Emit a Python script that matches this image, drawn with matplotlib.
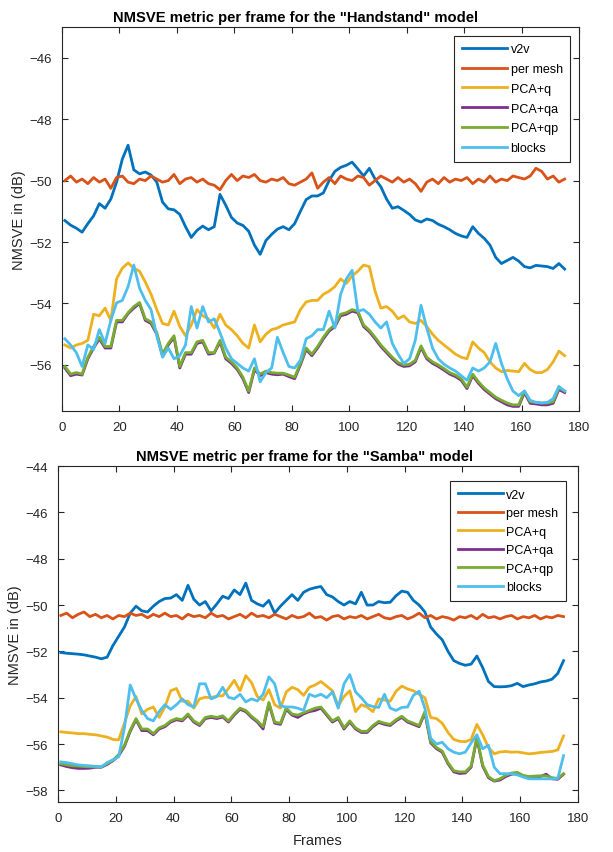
import numpy as np
import matplotlib
matplotlib.use("Agg")
import matplotlib.pyplot as plt

plt.rcParams['font.family'] = ['Liberation Sans', 'DejaVu Sans']

labels = ["v2v", "per mesh", "PCA+q", "PCA+qa", "PCA+qp", "blocks"]
colors = ["#0072BD", "#D95319", "#EDB120", "#7E2F8E", "#77AC30", "#4DBEEE"]
frame_start = 1
frame_step = 2

# ---------------- Handstand (sampled every 2 frames, frames 1..175) ----------------
hs_v2v = [-51.3, -51.45, -51.55, -51.68, -51.4, -51.15, -50.75, -50.9, -50.6, -50.05,
          -49.3, -48.85, -49.65, -49.78, -49.72, -49.82, -50.05, -50.7, -50.92, -50.95,
          -51.1, -51.5, -51.85, -51.62, -51.48, -51.6, -51.5, -50.45, -50.8, -51.2,
          -51.38, -51.46, -51.65, -52.1, -52.4, -51.95, -51.75, -51.58, -51.5, -51.6,
          -51.4, -51.0, -50.62, -50.5, -50.5, -50.4, -50.0, -49.7, -49.57, -49.5,
          -49.4, -49.62, -49.85, -49.6, -49.95, -50.2, -50.6, -50.9, -50.85, -50.97,
          -51.1, -51.28, -51.35, -51.25, -51.3, -51.42, -51.5, -51.6, -51.72, -51.8,
          -51.85, -51.5, -51.72, -51.88, -52.1, -52.5, -52.7, -52.6, -52.5, -52.62,
          -52.8, -52.84, -52.76, -52.78, -52.8, -52.86, -52.7, -52.88]
hs_mesh = [-50.0, -49.85, -50.05, -49.95, -50.1, -49.9, -50.05, -49.95, -50.25, -49.9,
           -49.85, -50.05, -50.1, -49.95, -50.0, -49.85, -49.95, -50.05, -50.0, -49.8,
           -50.1, -49.95, -49.9, -50.05, -49.95, -50.1, -50.15, -50.3, -50.0, -49.8,
           -50.0, -49.85, -49.9, -49.8, -50.0, -50.05, -49.95, -50.0, -49.9, -50.1,
           -50.15, -50.05, -49.95, -49.75, -50.25, -50.05, -49.9, -50.1, -49.85, -49.95,
           -50.0, -49.85, -49.9, -50.15, -50.0, -49.85, -49.95, -50.05, -49.9, -50.05,
           -49.95, -50.1, -50.35, -50.05, -49.95, -50.1, -49.9, -50.05, -49.95, -50.0,
           -49.9, -50.1, -49.95, -50.05, -49.85, -50.05, -49.95, -50.0, -49.85, -49.9,
           -49.95, -49.85, -49.6, -49.7, -49.95, -49.85, -50.05, -49.95]
hs_q = [-55.35, -55.45, -55.35, -55.3, -55.2, -54.35, -54.4, -54.15, -54.55, -53.2,
        -52.85, -52.68, -52.85, -52.95, -53.3, -53.7, -54.2, -54.65, -54.7, -54.25,
        -54.75, -55.05, -54.7, -54.2, -54.4, -54.5, -54.8, -54.35, -54.7, -54.85,
        -55.05, -55.3, -55.45, -54.7, -55.25, -55.0, -54.85, -54.8, -54.7, -54.65,
        -54.6, -54.2, -53.95, -53.9, -53.9, -53.7, -53.6, -53.45, -53.2, -53.35,
        -53.1, -52.95, -52.75, -52.8, -53.6, -54.15, -54.1, -54.25, -54.5, -54.4,
        -54.6, -54.65, -54.55, -54.75, -55.0, -55.2, -55.35, -55.5, -55.65, -55.75,
        -55.8, -55.25, -55.45, -55.6, -55.9, -56.1, -56.22, -56.18, -56.2, -56.22,
        -55.95, -56.15, -56.25, -56.25, -56.15, -55.9, -55.55, -55.7]
hs_qa = [-56.1, -56.35, -56.3, -56.33, -55.8, -55.45, -55.15, -55.45, -55.45, -54.6,
         -54.6, -54.33, -54.15, -54.0, -54.55, -54.65, -55.0, -55.7, -55.35, -55.1,
         -56.1, -55.65, -55.65, -55.3, -55.25, -55.65, -55.62, -55.25, -55.8, -55.95,
         -56.15, -56.45, -56.9, -56.15, -56.35, -56.25, -56.3, -56.32, -56.3, -56.38,
         -56.45, -56.0, -55.5, -55.7, -55.45, -55.15, -54.9, -54.75, -54.4, -54.35,
         -54.25, -54.3, -54.75, -54.92, -55.15, -55.4, -55.6, -55.8, -55.97, -56.05,
         -56.03, -55.9, -55.43, -55.8, -55.95, -56.05, -56.17, -56.3, -56.38, -56.5,
         -56.77, -56.35, -56.6, -56.8, -56.95, -57.1, -57.2, -57.3, -57.35, -57.35,
         -56.9, -57.25, -57.27, -57.3, -57.3, -57.25, -56.8, -56.9]
hs_qp = [-56.05, -56.3, -56.25, -56.3, -55.75, -55.4, -55.1, -55.4, -55.4, -54.55,
         -54.55, -54.3, -54.1, -53.97, -54.5, -54.6, -54.95, -55.65, -55.3, -55.05,
         -56.05, -55.6, -55.6, -55.25, -55.2, -55.6, -55.6, -55.2, -55.75, -55.9,
         -56.1, -56.4, -56.85, -56.1, -56.3, -56.2, -56.25, -56.27, -56.27, -56.33,
         -56.4, -55.95, -55.45, -55.65, -55.4, -55.1, -54.85, -54.7, -54.35, -54.3,
         -54.2, -54.25, -54.7, -54.87, -55.1, -55.35, -55.55, -55.75, -55.92, -56.0,
         -55.98, -55.85, -55.38, -55.75, -55.9, -56.0, -56.12, -56.25, -56.33, -56.45,
         -56.72, -56.3, -56.55, -56.75, -56.9, -57.05, -57.15, -57.24, -57.3, -57.3,
         -56.85, -57.2, -57.22, -57.24, -57.24, -57.2, -56.75, -56.85]
hs_blocks = [-55.15, -55.35, -55.6, -56.05, -55.35, -55.5, -54.85, -55.3, -54.55, -53.98,
             -53.9, -53.45, -52.75, -53.5, -53.9, -54.2, -55.05, -55.75, -55.45, -55.8,
             -55.7, -55.35, -54.1, -54.8, -54.1, -54.6, -54.5, -54.95, -55.45, -55.8,
             -55.95, -56.1, -56.2, -55.8, -56.55, -56.25, -56.1, -55.1, -55.6, -56.05,
             -56.1, -55.85, -55.15, -55.05, -54.85, -54.85, -54.25, -54.8, -53.7, -53.2,
             -52.92, -54.25, -54.2, -54.35, -54.6, -54.8, -54.6, -55.3, -55.65, -55.95,
             -55.8, -55.2, -54.06, -54.8, -55.45, -55.8, -55.98, -56.1, -56.2, -56.35,
             -56.5, -56.1, -56.2, -56.1, -55.9, -55.3, -55.95, -56.45, -56.85, -57.0,
             -56.85, -57.15, -57.22, -57.24, -57.22, -57.1, -56.7, -56.85]

# ---------------- Samba (sampled every 2 frames, frames 1..175) ----------------
sb_v2v = [-52.05, -52.08, -52.1, -52.12, -52.15, -52.2, -52.25, -52.32, -52.25, -51.75,
          -51.35, -50.95, -50.35, -50.05, -50.25, -50.3, -50.05, -49.85, -49.72, -49.7,
          -49.55, -49.8, -49.15, -49.75, -50.0, -49.85, -50.25, -49.95, -49.62, -49.72,
          -49.35, -49.55, -49.05, -49.8, -49.95, -50.05, -49.8, -50.35, -50.05, -49.8,
          -49.55, -49.8, -49.45, -49.32, -49.25, -49.2, -49.55, -49.65, -49.85, -50.0,
          -49.85, -49.95, -49.45, -50.0, -50.0, -49.85, -49.9, -49.88, -49.6, -49.4,
          -49.45, -49.8, -50.0, -50.3, -50.95, -51.25, -51.5, -52.0, -52.4, -52.52,
          -52.6, -52.55, -52.2, -52.7, -53.3, -53.52, -53.53, -53.52, -53.48, -53.38,
          -53.52, -53.45, -53.4, -53.32, -53.28, -53.2, -52.95, -52.4]
sb_mesh = [-50.45, -50.35, -50.55, -50.4, -50.3, -50.5, -50.4, -50.55, -50.45, -50.6,
           -50.45, -50.5, -50.35, -50.45, -50.4, -50.55, -50.4, -50.5, -50.35, -50.5,
           -50.45, -50.6, -50.4, -50.5, -50.45, -50.55, -50.35, -50.5, -50.45, -50.6,
           -50.5, -50.4, -50.55, -50.35, -50.5, -50.45, -50.55, -50.4, -50.5, -50.6,
           -50.45, -50.55, -50.5, -50.35, -50.55, -50.5, -50.65, -50.5, -50.45, -50.6,
           -50.5, -50.55, -50.45, -50.6, -50.5, -50.4, -50.55, -50.6, -50.5, -50.45,
           -50.6, -50.5, -50.35, -50.55, -50.45, -50.6, -50.5, -50.55, -50.65, -50.5,
           -50.55, -50.45, -50.6, -50.4, -50.55, -50.5, -50.6, -50.5, -50.45, -50.6,
           -50.5, -50.55, -50.45, -50.6, -50.5, -50.55, -50.45, -50.5]
sb_q = [-55.47, -55.5, -55.52, -55.55, -55.55, -55.58, -55.6, -55.65, -55.7, -55.8,
        -55.82, -55.1, -54.35, -53.95, -54.7, -54.5, -54.4, -54.85, -54.4, -53.7,
        -53.6, -54.15, -54.15, -54.45, -54.05, -53.98, -54.0, -53.92, -53.92, -53.6,
        -53.25, -53.7, -53.05, -53.35, -53.95, -54.1, -53.65, -54.3, -54.45, -53.75,
        -53.55, -53.65, -53.9, -53.55, -53.45, -53.3, -53.5, -53.7, -54.35, -53.95,
        -53.7, -54.6, -54.3, -54.4, -54.6, -54.05, -54.1, -54.15, -53.72, -53.5,
        -53.62, -53.7, -53.85, -54.0, -54.85, -54.9, -55.1, -55.5, -55.8, -55.88,
        -55.9, -55.8, -55.15, -55.6, -56.15, -56.42, -56.34, -56.32, -56.35, -56.34,
        -56.38, -56.42, -56.4, -56.36, -56.34, -56.32, -56.25, -55.65]
sb_qa = [-56.9, -56.97, -57.02, -57.05, -57.05, -57.04, -57.0, -57.0, -56.88, -56.72,
         -56.5, -56.1, -55.45, -54.95, -55.42, -55.42, -55.6, -55.35, -55.25, -55.05,
         -54.95, -55.0, -54.75, -55.05, -55.2, -54.9, -54.85, -54.9, -54.83, -55.05,
         -54.75, -54.5, -54.6, -54.85, -55.05, -55.35, -54.25, -55.1, -55.15, -54.5,
         -54.75, -54.85, -54.7, -54.6, -54.55, -54.45, -54.75, -55.05, -54.9, -55.35,
         -55.05, -55.35, -55.5, -55.5, -55.25, -55.07, -55.15, -55.2, -55.0, -54.85,
         -55.05, -55.15, -55.25, -54.65, -55.95, -56.2, -56.35, -56.85, -57.2, -57.27,
         -57.25, -57.0, -55.75, -56.95, -57.45, -57.6, -57.55, -57.4, -57.3, -57.27,
         -57.4, -57.45, -57.42, -57.4, -57.3, -57.5, -57.52, -57.3]
sb_qp = [-56.85, -56.9, -56.94, -56.95, -56.97, -56.98, -56.98, -56.98, -56.85, -56.7,
         -56.45, -56.05, -55.4, -54.9, -55.35, -55.35, -55.55, -55.3, -55.2, -55.0,
         -54.9, -54.95, -54.7, -55.0, -55.15, -54.85, -54.8, -54.85, -54.78, -55.0,
         -54.7, -54.45, -54.55, -54.8, -55.0, -55.25, -54.2, -55.05, -55.1, -54.45,
         -54.7, -54.75, -54.65, -54.55, -54.45, -54.4, -54.7, -55.0, -54.85, -55.3,
         -55.0, -55.3, -55.45, -55.45, -55.2, -55.02, -55.1, -55.15, -54.95, -54.8,
         -55.0, -55.1, -55.2, -54.6, -55.9, -56.15, -56.3, -56.8, -57.15, -57.2,
         -57.2, -56.95, -55.7, -56.9, -57.4, -57.58, -57.5, -57.35, -57.25, -57.22,
         -57.35, -57.4, -57.38, -57.37, -57.37, -57.45, -57.48, -57.28]
sb_blocks = [-56.77, -56.8, -56.85, -56.9, -56.92, -56.94, -56.96, -56.98, -56.8, -56.68,
             -56.55, -55.3, -53.45, -54.05, -54.55, -54.9, -55.0, -54.6, -54.3, -54.5,
             -54.3, -54.05, -54.3, -54.4, -53.4, -53.4, -54.05, -53.95, -53.55, -53.98,
             -54.05, -53.85, -54.18, -54.05, -54.14, -53.85, -53.1, -53.4, -54.35, -54.4,
             -54.4, -54.45, -54.55, -53.85, -53.95, -53.85, -54.0, -53.75, -54.45, -53.4,
             -53.0, -53.75, -54.0, -54.3, -54.38, -54.42, -53.85, -54.45, -54.55, -54.42,
             -54.4, -53.9, -53.72, -54.45, -55.75, -56.0, -55.92, -56.2, -56.35, -56.42,
             -56.35, -55.95, -55.6, -56.2, -56.05, -57.0, -57.28, -57.28, -57.28, -57.33,
             -57.42, -57.5, -57.5, -57.5, -57.5, -57.5, -57.48, -56.5]

titles = ['NMSVE metric per frame for the "Handstand" model',
          'NMSVE metric per frame for the "Samba" model']
hs_yticks = [-56, -54, -52, -50, -48, -46]
sb_yticks = [-58, -56, -54, -52, -50, -48, -46, -44]
xticks = [0, 20, 40, 60, 80, 100, 120, 140, 160, 180]

W, H = 613, 853
fig = plt.figure(figsize=(W / 100, H / 100), dpi=100)
ax1 = fig.add_axes([62 / W, 1 - 412 / H, (579 - 62) / W, (412 - 28) / H])
ax2 = fig.add_axes([58 / W, 1 - 803 / H, (578 - 58) / W, (803 - 467) / H])

gray = "#262626"
def style(ax, yticks, ylim):
    ax.set_xlim(0, 180)
    ax.set_ylim(*ylim)
    ax.set_xticks(xticks)
    ax.set_yticks(yticks)
    ax.tick_params(direction='in', top=True, right=True, labelsize=9.5,
                   colors=gray, length=4, width=0.8, pad=7)
    for s in ax.spines.values():
        s.set_color(gray)
        s.set_linewidth(0.8)
    ax.set_ylabel("NMSVE in (dB)", fontsize=10.5, color=gray, labelpad=3)

series_sets = [
    (ax1, [hs_v2v, hs_mesh, hs_q, hs_qa, hs_qp, hs_blocks]),
    (ax2, [sb_v2v, sb_mesh, sb_q, sb_qa, sb_qp, sb_blocks]),
]
for ax, sets in series_sets:
    for vals, lab, col in zip(sets, labels, colors):
        x = frame_start + frame_step * np.arange(len(vals))
        ax.plot(x, vals, color=col, lw=2.0, label=lab)

style(ax1, hs_yticks, (-57.5, -45))
style(ax2, sb_yticks, (-58.5, -44))
ax1.set_title(titles[0], fontsize=10.6, fontweight='bold', pad=4, x=0.451)
ax2.set_title(titles[1], fontsize=10.6, fontweight='bold', pad=4, x=0.475)
ax2.set_xlabel("Frames", fontsize=10.5, color=gray, labelpad=7)

for ax, anchor, sp in [(ax1, (0.983, 0.977), 0.62), (ax2, (0.977, 0.955), 0.52)]:
    leg = ax.legend(loc='upper right', bbox_to_anchor=anchor, fontsize=9,
                    handlelength=3.6, handletextpad=0.3, labelspacing=sp,
                    borderpad=0.6, fancybox=False, framealpha=1, edgecolor=gray,
                    borderaxespad=0)
    leg.get_frame().set_linewidth(0.8)

fig.savefig("out.png", dpi=100)
